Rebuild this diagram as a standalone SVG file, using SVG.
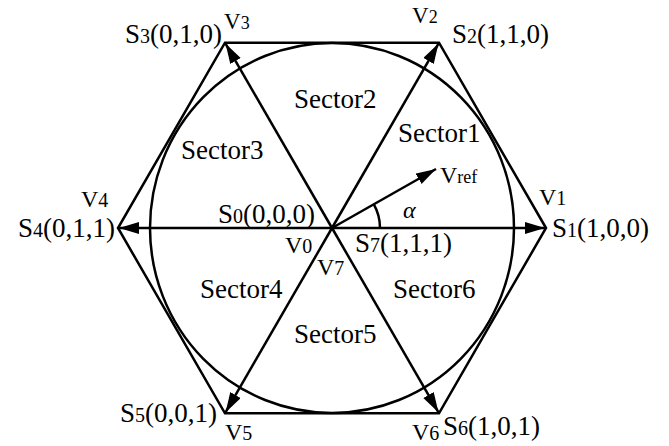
<svg xmlns="http://www.w3.org/2000/svg" width="669" height="446" viewBox="0 0 669 446">
<style>
.ln{fill:none;stroke:#000;stroke-width:2.5;stroke-linejoin:miter}
.ar{fill:none;stroke:#000;stroke-width:2.5;marker-end:url(#ah)}
text{fill:#000}
.s{font-size:27px}
.v{font-size:24px}
.vs{font-size:23px}
.sub{font-size:20px}
.subs{font-size:18px}
.sec{font-size:27px}
</style>
<defs>
<marker id="ah" markerUnits="userSpaceOnUse" markerWidth="22" markerHeight="14" refX="20" refY="6" orient="auto">
<path d="M0,0 L20,6 L0,12 Z" fill="#000"/>
</marker>
</defs>
<rect width="669" height="446" fill="#fff"/>
<g id="hexagon">
<polygon class="ln" points="546,228 439,42.7 225,42.7 118,228 225,413.3 439,413.3"/>
</g>
<g id="circle">
<ellipse class="ln" cx="332" cy="228" rx="182" ry="185"/>
</g>
<g id="connectors">
<line class="ar" x1="332" y1="228" x2="545" y2="228"/>
<line class="ar" x1="332" y1="228" x2="438.5" y2="43.6"/>
<line class="ar" x1="332" y1="228" x2="225.5" y2="43.6"/>
<line class="ar" x1="332" y1="228" x2="119" y2="228"/>
<line class="ar" x1="332" y1="228" x2="225.5" y2="412.4"/>
<line class="ar" x1="332" y1="228" x2="438.5" y2="412.4"/>
<line class="ar" x1="332" y1="228" x2="436" y2="169"/>
<path class="ln" d="M373.7,204.2 A48,48 0 0 1 380,228" stroke-width="2"/>
</g>
<g id="labels" font-family="'Liberation Serif', 'Times New Roman', 'DejaVu Serif', serif">
<text class="s" x="125" y="43">S<tspan class="sub">3</tspan>(0,1,0)</text>
<text class="vs" x="224" y="29">V<tspan class="subs">3</tspan></text>
<text class="vs" x="412" y="23">V<tspan class="subs">2</tspan></text>
<text class="s" x="452" y="43">S<tspan class="sub">2</tspan>(1,1,0)</text>
<text class="v" x="81" y="207">V<tspan class="sub">4</tspan></text>
<text class="s" x="115" y="237" text-anchor="end">S<tspan class="sub">4</tspan>(0,1,1)</text>
<text class="s" x="218" y="223">S<tspan class="sub">0</tspan>(0,0,0)</text>
<text class="v" x="285" y="253">V<tspan class="sub">0</tspan></text>
<text class="v" x="317" y="275">V<tspan class="sub">7</tspan></text>
<text class="s" x="355" y="252">S<tspan class="sub">7</tspan>(1,1,1)</text>
<text class="v" x="440" y="183">V<tspan class="subs">ref</tspan></text>
<text class="v" x="403" y="218" font-style="italic">α</text>
<text class="v" x="539" y="205">V<tspan class="sub">1</tspan></text>
<text class="s" x="552" y="237">S<tspan class="sub">1</tspan>(1,0,0)</text>
<text class="s" x="120" y="422">S<tspan class="sub">5</tspan>(0,0,1)</text>
<text class="v" x="225" y="440">V<tspan class="sub">5</tspan></text>
<text class="s" x="443" y="435">S<tspan class="sub">6</tspan>(1,0,1)</text>
<text class="v" x="412" y="440">V<tspan class="sub">6</tspan></text>
<text class="sec" x="294" y="108">Sector2</text>
<text class="sec" x="181" y="159">Sector3</text>
<text class="sec" x="398" y="142">Sector1</text>
<text class="sec" x="200" y="298">Sector4</text>
<text class="sec" x="393" y="298">Sector6</text>
<text class="sec" x="294" y="343">Sector5</text>
</g>
</svg>
